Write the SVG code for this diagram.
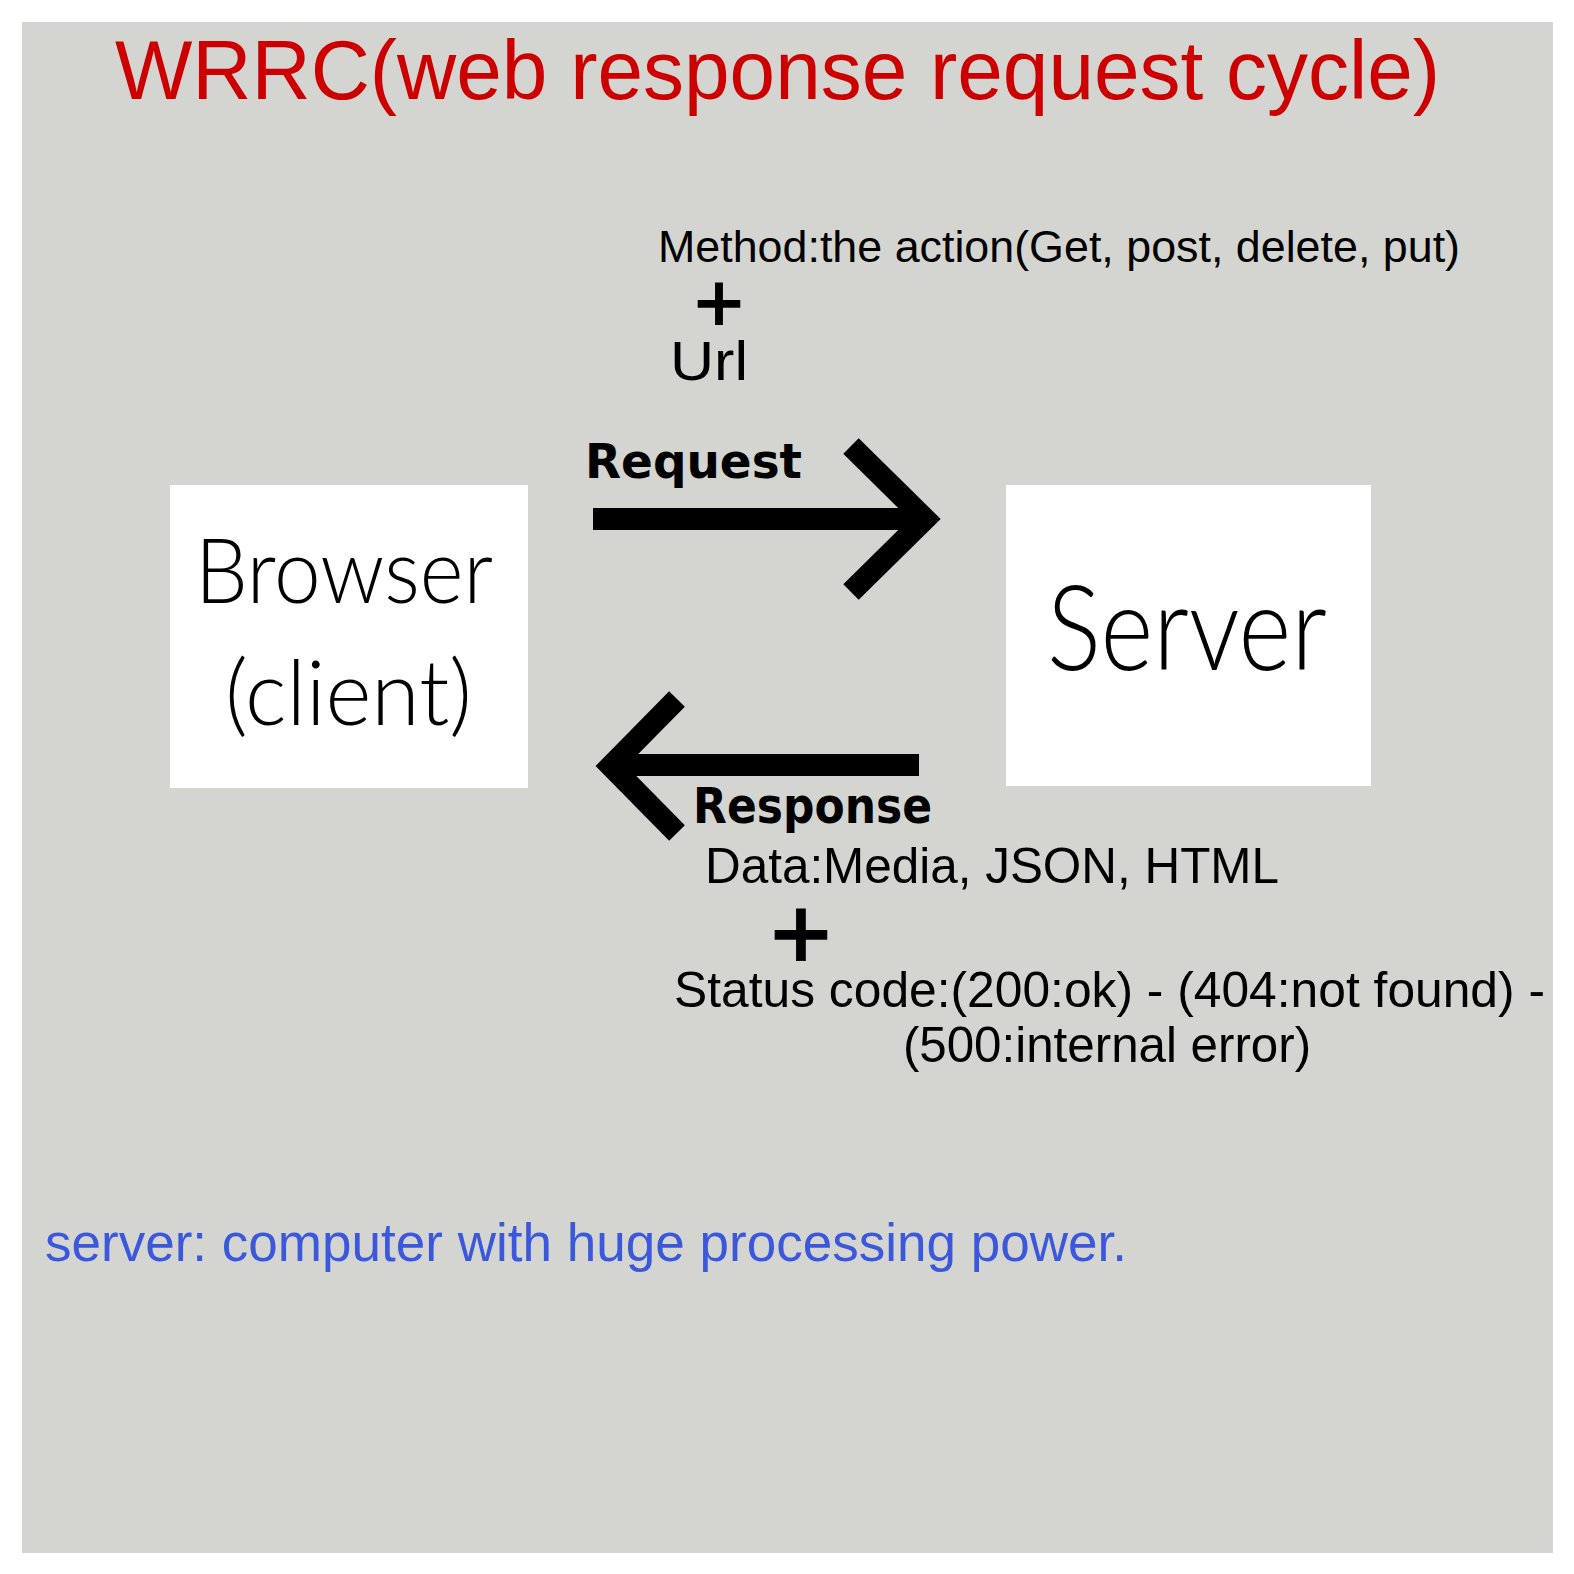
<svg xmlns="http://www.w3.org/2000/svg" width="1574" height="1574" viewBox="0 0 1574 1574">
<style>
.arial{font-family:"Liberation Sans",Arial,sans-serif;fill:#000}
.thin{font-family:Lato,"DejaVu Sans",sans-serif;font-weight:300;fill:#000}
.bold{font-family:"DejaVu Sans","Liberation Sans",sans-serif;font-weight:bold;fill:#000}
.box{fill:#ffffff}
.conn{fill:none;stroke:#000;stroke-width:22;stroke-linejoin:miter;stroke-miterlimit:10}
</style>
<rect x="0" y="0" width="1574" height="1574" fill="#ffffff"/>
<rect x="22" y="22" width="1531" height="1531" fill="#d4d5d0"/>
<text id="title" x="115" y="99" font-family="Liberation Sans, Arial, sans-serif" font-size="83" fill="#cc0000" textLength="1325" lengthAdjust="spacingAndGlyphs">WRRC(web response request cycle)</text>
<g id="browser">
<rect class="box" x="170" y="485" width="358" height="303"/>
<text class="thin" x="195" y="603" font-size="90" textLength="298" lengthAdjust="spacingAndGlyphs">Browser</text>
<text class="thin" x="225" y="725" font-size="90" textLength="247" lengthAdjust="spacingAndGlyphs">(client)</text>
</g>
<g id="server">
<rect class="box" x="1006" y="485" width="365" height="301"/>
<text class="thin" x="1047" y="670" font-size="118" textLength="280" lengthAdjust="spacingAndGlyphs">Server</text>
</g>
<g id="connectors">
<path class="conn" d="M593 519 H922"/>
<path class="conn" d="M851 446 L925 519 L851 592"/>
<path class="conn" d="M919 765 H614"/>
<path class="conn" d="M677 699 L611 766 L677 833"/>
</g>
<g id="request-label">
<text class="bold" x="585" y="478" font-size="48" textLength="217" lengthAdjust="spacingAndGlyphs">Request</text>
<text class="arial" x="658" y="262" font-size="44.8" textLength="802" lengthAdjust="spacingAndGlyphs">Method:the action(Get, post, delete, put)</text>
<text class="bold" x="719" y="325" font-size="68" text-anchor="middle">+</text>
<text class="arial" x="670" y="380" font-size="56" textLength="78" lengthAdjust="spacingAndGlyphs">Url</text>
</g>
<g id="response-label">
<text class="bold" x="693" y="823" font-size="50" textLength="239" lengthAdjust="spacingAndGlyphs">Response</text>
<text class="arial" x="705" y="883" font-size="49.4" textLength="574" lengthAdjust="spacingAndGlyphs">Data:Media, JSON, HTML</text>
<text class="bold" x="801" y="961" font-size="84" text-anchor="middle">+</text>
<text class="arial" x="674" y="1007" font-size="49.7" textLength="871" lengthAdjust="spacingAndGlyphs">Status code:(200:ok) - (404:not found) -</text>
<text class="arial" x="1107" y="1062" font-size="49.3" text-anchor="middle">(500:internal error)</text>
</g>
<text id="note" x="45" y="1261" font-family="Liberation Sans, Arial, sans-serif" font-size="52.9" fill="#3b58dd" textLength="1082" lengthAdjust="spacingAndGlyphs">server: computer with huge processing power.</text>
</svg>
